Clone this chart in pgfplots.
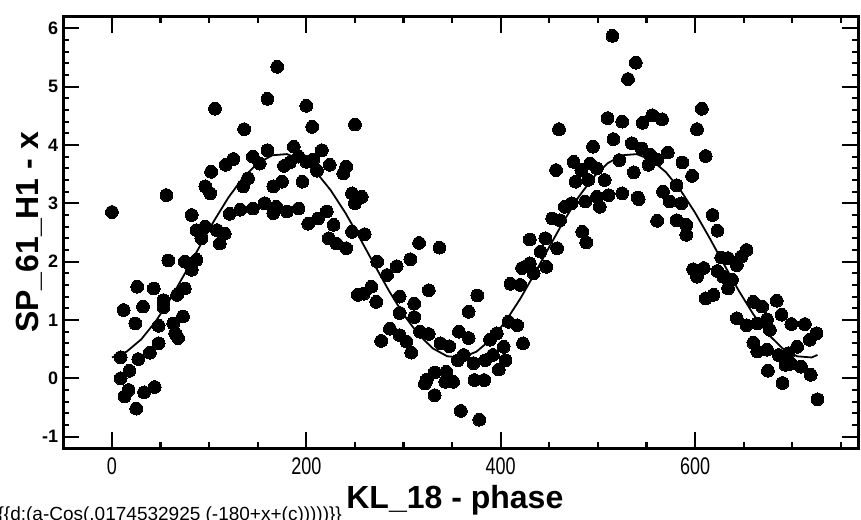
\documentclass[border=0pt]{standalone}
\usepackage{fontspec}
\setmainfont{Liberation Sans}
\newfontfamily\narrowfont[FakeStretch=0.75]{Liberation Sans}
\usepackage{pgfplots}
\pgfplotsset{compat=1.18}

% measured observations: phase (x) versus SP_61_H1 - x (y)
\pgfplotstableread{
x y
0 2.85
9 0.36
9 0.00
12 1.17
13 -0.31
17 -0.20
18 0.13
24 0.94
25 -0.52
26 1.57
27 0.33
32 1.23
33 -0.24
39 0.44
43 1.54
44 -0.15
48 0.90
48 0.60
53 1.34
53 1.22
56 3.14
58 2.02
63 0.94
65 0.77
67 1.43
68 0.69
73 1.06
75 2.00
75 1.54
82 2.80
82 1.86
87 2.54
87 2.03
92 2.40
96 2.60
96 3.29
101 3.17
102 3.54
106 4.62
108 2.54
111 2.31
116 2.48
117 3.66
121 2.82
125 3.76
132 2.89
135 3.29
136 4.27
140 3.43
145 3.80
145 2.91
152 3.68
157 3.00
160 4.79
160 3.91
166 3.29
166 2.83
169 2.94
170 5.34
175 3.37
177 3.64
180 2.86
183 3.70
187 3.97
192 3.80
192 2.91
196 3.37
200 4.67
200 3.71
202 2.65
206 4.31
207 3.75
211 3.56
212 2.74
216 3.91
221 2.86
223 2.40
224 3.66
228 2.63
231 2.31
238 3.51
241 3.63
241 2.23
247 3.17
247 2.51
250 4.35
250 3.00
253 1.43
257 3.11
259 1.45
260 2.47
267 1.57
272 1.31
273 2.00
277 0.64
283 1.77
286 0.85
293 1.92
296 1.40
296 1.12
296 0.74
303 0.63
307 2.04
308 0.44
311 1.28
311 1.05
316 2.32
317 0.80
322 -0.09
324 -0.02
326 1.51
326 0.76
332 0.10
332 -0.29
337 2.24
338 0.60
343 -0.06
344 0.11
347 0.55
351 -0.06
356 0.31
357 0.80
359 -0.56
362 0.40
367 1.14
367 0.69
372 0.26
373 -0.03
376 1.42
378 -0.71
383 -0.03
384 0.31
389 0.66
392 0.40
396 0.77
398 0.15
403 0.54
405 0.31
408 0.97
410 1.62
417 0.91
420 1.60
422 1.89
423 0.60
430 1.97
430 2.38
434 1.80
441 2.17
446 2.40
447 1.91
453 2.74
457 3.57
458 2.23
460 4.27
461 2.71
466 2.94
473 3.00
475 3.71
477 3.37
483 3.57
484 2.51
487 3.03
488 2.33
490 3.40
492 3.68
495 3.97
499 3.60
499 3.11
502 2.94
507 3.40
510 4.46
511 3.14
515 5.87
516 4.10
522 3.74
525 4.40
525 3.17
531 5.13
535 4.03
537 3.53
539 5.41
541 3.10
542 3.07
545 3.94
546 4.38
552 3.66
554 3.83
556 4.51
561 3.75
561 2.70
566 4.44
567 3.20
572 3.87
574 3.03
581 3.31
581 2.71
586 3.00
587 3.70
591 2.63
591 2.46
597 3.47
598 1.87
602 4.27
602 1.74
607 4.62
609 1.89
611 3.81
611 1.37
618 2.80
619 1.43
623 2.53
623 1.84
627 2.07
629 1.74
634 2.06
634 1.54
638 1.69
643 1.94
643 1.03
648 2.09
653 2.20
653 0.91
660 1.31
660 0.61
664 0.94
664 0.46
669 1.23
674 1.01
674 0.49
675 0.13
677 0.83
684 1.33
686 0.40
689 1.09
690 -0.08
693 0.23
696 0.43
699 0.93
699 0.25
705 0.54
709 0.20
713 0.93
718 0.66
719 0.06
725 0.77
726 -0.36
}\observations

% fitted cosine, tabulated
\pgfplotstableread{
x y
0 0.357
15 0.456
30 0.666
45 0.975
60 1.360
75 1.796
90 2.253
105 2.699
120 3.104
135 3.441
150 3.686
165 3.823
180 3.843
195 3.744
210 3.534
225 3.225
240 2.840
255 2.404
270 1.947
285 1.501
300 1.096
315 0.759
330 0.514
345 0.377
360 0.357
375 0.456
390 0.666
405 0.975
420 1.360
435 1.796
450 2.253
465 2.699
480 3.104
495 3.441
510 3.686
525 3.823
540 3.843
555 3.744
570 3.534
585 3.225
600 2.840
615 2.404
630 1.947
645 1.501
660 1.096
675 0.759
690 0.514
705 0.377
720 0.357
726 0.400
}\fitcurve

\begin{document}
\begin{tikzpicture}
\path[use as bounding box] (-63.4bp,-71.7bp) rectangle ++(861bp,520bp);
\begin{axis}[
  scale only axis,
  width=794.9bp, height=431.7bp,
  xmin=-50, xmax=768, ymin=-1.2, ymax=6.2,
  xtick={0,200,400,600},
  xticklabels={0,200,400,600},
  minor xtick={-50,50,100,150,250,300,350,450,500,550,650,700,750},
  ytick={-1,0,1,2,3,4,5,6},
  yticklabels={-1,0,1,2,3,4,5,6},
  minor ytick={-0.8,-0.6,-0.4,-0.2,0.2,0.4,0.6,0.8,1.2,1.4,1.6,1.8,2.2,2.4,2.6,2.8,3.2,3.4,3.6,3.8,4.2,4.4,4.6,4.8,5.2,5.4,5.6,5.8},
  tick align=inside,
  major tick length=16bp,
  minor tick length=6bp,
  every tick/.style={black, line width=2.2bp},
  axis line style={line width=2.6bp},
  xticklabel style={font=\narrowfont\fontsize{24bp}{26bp}\selectfont, inner sep=0pt, anchor=north, yshift=-9bp},
  yticklabel style={font=\bfseries\fontsize{18bp}{20bp}\selectfont, inner sep=0pt, anchor=east, xshift=-5bp},
  xlabel={KL\_18 - phase},
  ylabel={SP\_61\_H1 - x},
  every axis x label/.style={at={([yshift=-60bp,xshift=-6bp]axis description cs:0.5,0)}, anchor=base, font=\bfseries\fontsize{32bp}{36bp}\selectfont, inner sep=0pt},
  every axis y label/.style={at={([xshift=-25bp]axis description cs:0,0.5)}, rotate=90, anchor=base, font=\bfseries\fontsize{32bp}{36bp}\selectfont, inner sep=0pt},
  clip=false,
]
\addplot[only marks, mark=*, mark size=6.4bp, mark options={fill=black, draw=black, line width=0pt}] table[x=x, y=y] {\observations};
\addplot[black, line width=1.8bp, no marks] table[x=x, y=y] {\fitcurve};
\end{axis}
\node[anchor=base west, inner sep=0pt, font=\fontsize{19bp}{21bp}\selectfont] at (-66bp,-72.5bp) {\{\{d:(a-Cos(.0174532925 (-180+x+(c)))))\}\}};
\end{tikzpicture}
\end{document}
